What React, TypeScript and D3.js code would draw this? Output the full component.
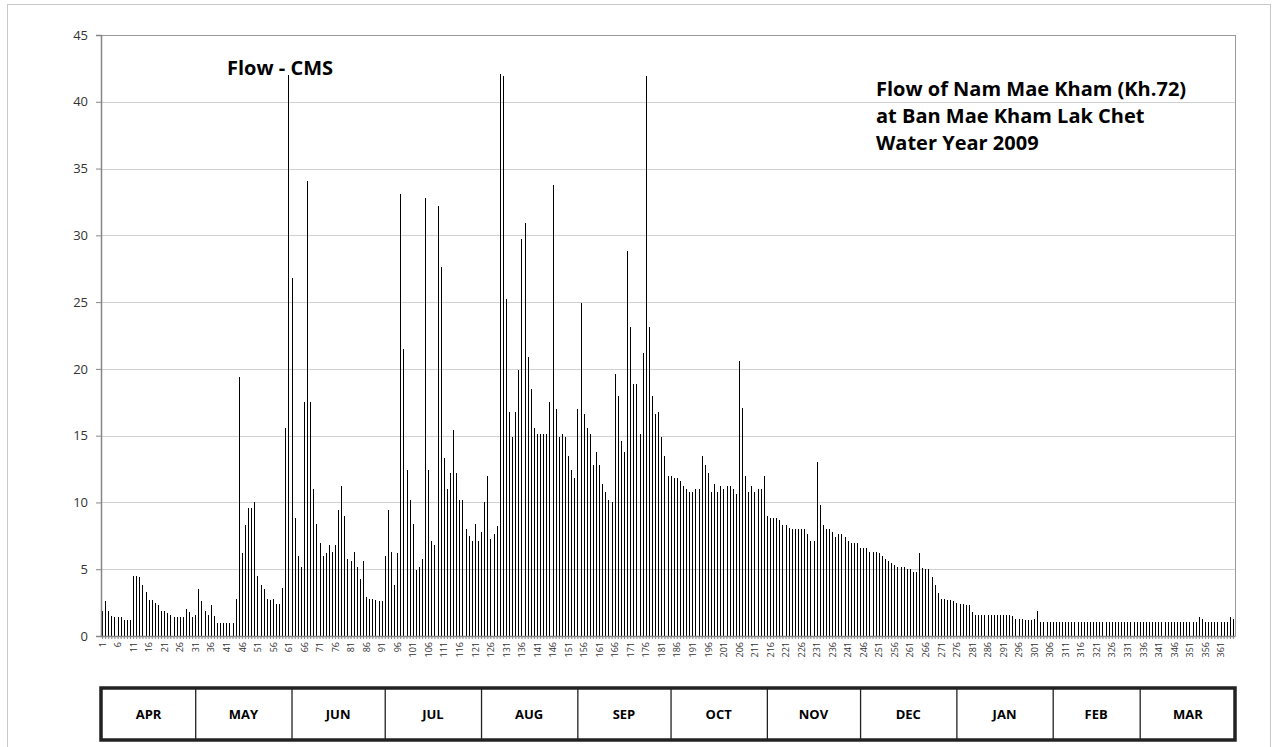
import React, { useEffect, useRef } from 'react'
import * as d3 from 'd3'

// daily flow (CMS), water year 2009 (1 Apr 2009 - 31 Mar 2010)
const flowApr = [1.9, 2.6, 1.9, 1.5, 1.45, 1.4, 1.4, 1.2, 1.2, 1.2, 4.5, 4.5, 4.4, 3.85, 3.3, 2.7, 2.7, 2.5, 2.3, 1.9, 1.9, 1.75, 1.6, 1.45, 1.45, 1.4, 1.4, 2.0, 1.8, 1.45]
const flowMay = [1.6, 3.5, 2.6, 1.9, 1.6, 2.35, 1.5, 1.0, 1.0, 1.0, 1.0, 1.0, 1.0, 2.8, 19.4, 6.2, 8.3, 9.6, 9.6, 10.0, 4.5, 3.85, 3.5, 2.8, 2.7, 2.8, 2.4, 2.4, 3.6, 15.6, 42.0]
const flowJun = [26.8, 8.8, 6.0, 5.2, 17.5, 34.1, 17.5, 11.0, 8.4, 7.0, 6.0, 6.2, 6.8, 6.3, 6.8, 9.4, 11.2, 9.0, 5.8, 5.65, 6.3, 5.2, 4.3, 5.65, 2.95, 2.8, 2.8, 2.7, 2.6, 2.6]
const flowJul = [6.0, 9.4, 6.3, 3.8, 6.2, 33.1, 21.5, 12.4, 10.2, 8.4, 4.95, 5.2, 5.8, 32.8, 12.4, 7.15, 6.8, 32.2, 27.6, 13.3, 11.0, 12.2, 15.4, 12.2, 10.2, 10.2, 8.0, 7.5, 7.15, 8.4, 7.15]
const flowAug = [7.8, 10.0, 12.0, 7.3, 7.6, 8.25, 42.1, 41.9, 25.2, 16.8, 14.9, 16.8, 19.9, 29.7, 30.9, 20.9, 18.5, 15.6, 15.1, 15.1, 15.1, 15.1, 17.5, 33.8, 17.0, 14.9, 15.1, 14.9, 13.5, 12.4, 11.8]
const flowSep = [17.0, 24.95, 16.6, 15.6, 15.1, 12.8, 13.8, 12.8, 11.4, 10.8, 10.2, 10.0, 19.6, 18.0, 14.6, 13.8, 28.8, 23.1, 18.9, 18.9, 15.1, 21.2, 41.9, 23.1, 18.0, 16.6, 16.8, 14.9, 13.5, 12.0]
const flowOct = [12.0, 11.8, 11.8, 11.6, 11.2, 11.0, 10.8, 10.8, 11.0, 11.0, 13.5, 12.8, 12.2, 10.8, 11.4, 10.8, 11.2, 11.0, 11.2, 11.2, 11.0, 10.6, 20.6, 17.05, 12.0, 10.8, 11.2, 10.8, 11.0, 11.0, 12.0]
const flowNov = [9.0, 8.8, 8.8, 8.8, 8.65, 8.3, 8.3, 8.1, 8.0, 8.0, 8.0, 8.0, 8.0, 7.6, 7.15, 7.15, 13.0, 9.8, 8.3, 8.0, 8.0, 7.8, 7.45, 7.6, 7.6, 7.45, 7.15, 7.0, 7.0, 7.0]
const flowDec = [6.6, 6.6, 6.6, 6.3, 6.3, 6.3, 6.2, 6.0, 5.8, 5.65, 5.5, 5.35, 5.2, 5.2, 5.2, 5.0, 5.0, 4.8, 4.8, 6.2, 5.1, 5.0, 5.0, 4.4, 3.8, 3.2, 2.8, 2.8, 2.7, 2.7, 2.6]
const flowJan = [2.5, 2.4, 2.4, 2.35, 2.3, 1.8, 1.6, 1.55, 1.55, 1.6, 1.55, 1.55, 1.55, 1.6, 1.6, 1.6, 1.55, 1.55, 1.5, 1.25, 1.25, 1.25, 1.2, 1.2, 1.2, 1.25, 1.9, 1.05, 1.05, 1.05, 1.05]
const flowFeb = [1.05, 1.05, 1.05, 1.05, 1.05, 1.05, 1.05, 1.05, 1.05, 1.05, 1.05, 1.05, 1.05, 1.05, 1.05, 1.05, 1.05, 1.05, 1.05, 1.05, 1.05, 1.05, 1.05, 1.05, 1.05, 1.05, 1.05, 1.05]
const flowMar = [1.05, 1.05, 1.05, 1.05, 1.05, 1.05, 1.05, 1.05, 1.05, 1.05, 1.05, 1.05, 1.05, 1.05, 1.05, 1.05, 1.05, 1.05, 1.05, 1.4, 1.25, 1.05, 1.05, 1.05, 1.05, 1.05, 1.05, 1.05, 1.05, 1.4, 1.25]

const monthNames = ['APR', 'MAY', 'JUN', 'JUL', 'AUG', 'SEP', 'OCT', 'NOV', 'DEC', 'JAN', 'FEB', 'MAR']
const yTicks = [0, 5, 10, 15, 20, 25, 30, 35, 40, 45]
const titleLines = ['Flow of Nam Mae Kham (Kh.72)', 'at Ban Mae Kham Lak Chet', 'Water Year 2009']
const seriesLabel = 'Flow - CMS'

const flow = [...flowApr, ...flowMay, ...flowJun, ...flowJul, ...flowAug, ...flowSep,
  ...flowOct, ...flowNov, ...flowDec, ...flowJan, ...flowFeb, ...flowMar]
const monthLengths = [flowApr, flowMay, flowJun, flowJul, flowAug, flowSep,
  flowOct, flowNov, flowDec, flowJan, flowFeb, flowMar].map(m => m.length)

const W = 1276
const H = 747
const font = '"Open Sans", "Noto Sans", sans-serif'

export default function App() {
  const svgRef = useRef<SVGSVGElement>(null)

  useEffect(() => {
    const svg = d3.select(svgRef.current)
    svg.selectAll('*').remove()

    const plot = { left: 101, right: 1235, top: 35, bottom: 636 }
    const days = flow.map((_, i) => i + 1)

    const x = d3.scaleBand<number>().domain(days).range([plot.left, plot.right])
    const y = d3.scaleLinear().domain([0, 45]).range([plot.bottom, plot.top])

    // chart border
    svg.append('rect')
      .attr('x', 7.5).attr('y', 4.5)
      .attr('width', 1263).attr('height', 780)
      .attr('fill', 'white')
      .attr('stroke', '#c8c8c8')

    // gridlines
    svg.append('g')
      .selectAll('line')
      .data(yTicks.filter(t => t > 0))
      .join('line')
      .attr('x1', plot.left).attr('x2', plot.right)
      .attr('y1', d => Math.round(y(d)) + 0.5).attr('y2', d => Math.round(y(d)) + 0.5)
      .attr('stroke', d => (d === 45 ? '#9a9a9a' : '#d0d0d0'))

    // plot border right side
    svg.append('line')
      .attr('x1', plot.right + 0.5).attr('x2', plot.right + 0.5)
      .attr('y1', plot.top).attr('y2', plot.bottom)
      .attr('stroke', '#9a9a9a')

    // bars
    svg.append('g')
      .attr('shape-rendering', 'crispEdges')
      .selectAll('rect')
      .data(flow)
      .join('rect')
      .attr('x', (d, i) => Math.round(x(i + 1)! + x.bandwidth() / 2 - 0.5))
      .attr('width', 1.2)
      .attr('y', d => y(d))
      .attr('height', d => y(0) - y(d))
      .attr('fill', '#000')

    // y axis
    const yAxis = svg.append('g')
      .attr('transform', `translate(${plot.left},0)`)
      .call(d3.axisLeft(y).tickValues(yTicks).tickSize(5).tickPadding(8).tickFormat(d3.format('d')))
    yAxis.select('.domain').attr('stroke', '#868686').attr('stroke-width', 1.5)
    yAxis.selectAll('.tick line').attr('stroke', '#868686')
    yAxis.selectAll('text')
      .attr('font-family', font).attr('font-size', 13).attr('fill', '#333')

    // x axis
    const xAxis = svg.append('g')
      .attr('transform', `translate(0,${plot.bottom})`)
      .call(d3.axisBottom(x).tickSize(3).tickSizeOuter(0).tickFormat(d => ((d - 1) % 5 === 0 ? String(d) : '')))
    xAxis.select('.domain').attr('stroke', '#868686').attr('stroke-width', 1.5)
    xAxis.selectAll('.tick line').attr('stroke', '#868686')
    xAxis.selectAll('text')
      .attr('font-family', font).attr('font-size', 9).attr('fill', '#333')
      .attr('text-anchor', 'end')
      .attr('transform', 'rotate(-90)')
      .attr('x', -6).attr('y', 0).attr('dy', '0.35em')

    // series label
    svg.append('text')
      .attr('x', 227).attr('y', 75)
      .attr('font-family', font).attr('font-size', 20).attr('font-weight', 'bold')
      .attr('fill', '#000')
      .text(seriesLabel)

    // title
    svg.append('g')
      .selectAll('text')
      .data(titleLines)
      .join('text')
      .attr('x', 876).attr('y', (d, i) => 96 + i * 27)
      .attr('font-family', font).attr('font-size', 20).attr('font-weight', 'bold')
      .attr('fill', '#000')
      .text(d => d)

    // month table
    const tTop = 688
    const tBot = 740
    const starts = monthLengths.map((_, i) => d3.sum(monthLengths.slice(0, i)) + 1)
    const edges = starts.map(s => x(s)!)
    const table = svg.append('g')
    table.selectAll('line')
      .data(edges.slice(1))
      .join('line')
      .attr('x1', d => d + 1.5).attr('x2', d => d + 1.5)
      .attr('y1', tTop).attr('y2', tBot)
      .attr('stroke', '#222').attr('stroke-width', 1.3)
    table.append('rect')
      .attr('x', plot.left).attr('y', tTop)
      .attr('width', plot.right - plot.left).attr('height', tBot - tTop)
      .attr('fill', 'none').attr('stroke', '#222').attr('stroke-width', 3.5)
    table.selectAll('text')
      .data(monthNames)
      .join('text')
      .attr('x', (d, i) => {
        const a = edges[i]
        const b = i + 1 < edges.length ? edges[i + 1] : plot.right
        return (a + b) / 2 + 1
      })
      .attr('y', (tTop + tBot) / 2)
      .attr('dy', '0.35em')
      .attr('text-anchor', 'middle')
      .attr('font-family', font).attr('font-size', 13).attr('font-weight', 'bold')
      .attr('fill', '#000')
      .text(d => d)
  }, [])

  return (
    <svg ref={svgRef} width={W} height={H}
      style={{ position: 'absolute', left: 0, top: 0, background: 'white' }} />
  )
}
